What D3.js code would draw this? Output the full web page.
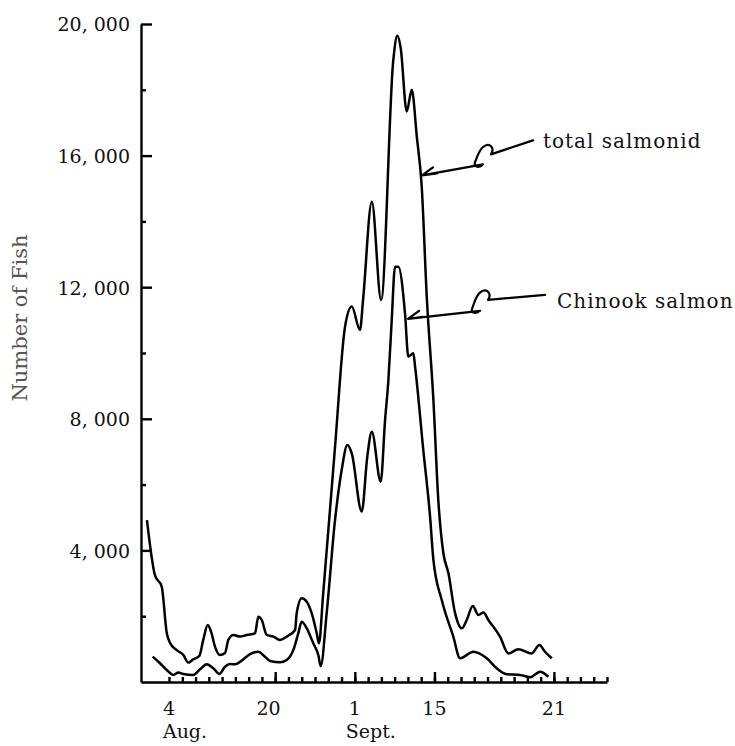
<!DOCTYPE html>
<meta charset="utf-8">
<style>
body { margin: 0; background: #fff; }
text { font-family: "DejaVu Serif", serif; fill: #111; }
.axis path, .axis line { stroke: #000; stroke-width: 2.4px; }
.axis text { font-size: 19px; }
.curve { fill: none; stroke: #000; stroke-width: 2.5px; stroke-linejoin: round; }
.note { font-size: 20px; letter-spacing: 1px; }
.arrow { fill: none; stroke: #000; stroke-width: 2.2px; stroke-linecap: round; stroke-linejoin: round; }
</style>
<svg width="735" height="746"></svg>
<script src="https://d3js.org/d3.v7.min.js"></script>
<script>
// x is measured in axis tick steps (first labelled tick "4 Aug." = 0)
const totalPos = [-1.66, -1.06, -0.55, -0.17, 0.08, 0.58, 1.08, 1.45, 1.83, 2.28, 2.58, 2.92, 3.17, 3.47, 3.84,
  4.22, 4.47, 4.85, 5.35, 5.86, 6.48, 6.73, 6.99, 7.36, 7.86, 8.36, 8.87, 9.5, 9.62, 10.0, 10.38, 10.75,
  11.13, 11.3, 11.6, 12.5, 13.26, 13.77, 14.39, 14.62, 15.28, 15.98, 16.9, 17.2, 17.46, 17.91, 18.29, 18.67, 19.04,
  19.42, 19.92, 20.29, 20.67, 21.05, 21.55, 22.06, 22.43, 22.89, 23.31, 23.69, 24.06, 24.94, 25.57,
  26.32, 27.33, 27.9, 28.33, 28.84]
const totalFish = [4920, 3250, 2900, 1490, 1185, 970, 820, 590, 690, 790, 1280, 1730, 1530, 1070, 820,
  880, 1280, 1430, 1380, 1430, 1480, 1985, 1885, 1430, 1380, 1280, 1380, 1580, 2090, 2545, 2440, 2090,
  1480, 1175, 2600, 7100, 10790, 11410, 10700, 11610, 14600, 11610, 18910, 19640, 19260, 17340, 18000, 16580, 15060,
  11710, 8570, 5530, 3920, 3310, 2100, 1630, 1885, 2310, 2040, 2110, 1885, 1380, 870,
  995, 870, 1125, 920, 720]

const chinookPos = [-1.23, -0.68, -0.17, 0.32, 0.7, 1.08, 1.83, 2.34, 2.84, 3.34, 3.79, 4.22, 4.6, 4.97,
  5.6, 6.1, 6.73, 7.23, 7.61, 8.36, 8.87, 9.37, 9.74, 10.0, 10.38, 10.87, 11.25, 11.43, 11.88, 12.51,
  13.01, 13.44, 13.77, 14.52, 14.94, 15.28, 15.95, 16.28, 16.53, 16.78, 17.03, 17.28, 17.78, 18.03, 18.41,
  18.54, 19.16, 19.67, 19.92, 20.55, 21.42, 21.93, 22.93, 23.94, 24.69, 25.45, 26.45, 27.2, 27.96, 28.58]
const chinookFish = [770, 570, 365, 215, 285, 245, 215, 385, 540, 415, 245, 465, 545, 540,
  690, 850, 920, 770, 640, 600, 670, 975, 1480, 1830, 1630, 1175, 820, 485, 2090, 4925,
  6445, 7205, 6950, 5180, 6850, 7610, 6090, 7965, 9180, 11000, 12625, 12625, 11210, 9890, 9990,
  9585, 7050, 5025, 3710, 2490, 1380, 720, 920, 720, 415, 235, 215, 145, 315, 160]

const yTicks = [4000, 8000, 12000, 16000, 20000]
const yMinorTicks = [2000, 6000, 10000, 14000, 18000]
const xTickSteps = d3.range(0, 34)
const xLongTicks = [8, 14, 20, 29]
const dayLabels = ["4", "20", "1", "15", "21"]
const dayLabelPos = [0, 7.5, 14, 20, 29]
const monthLabels = ["Aug.", "Sept."]
const monthLabelPos = [0, 14]
const yTitle = "Number of Fish"
const notes = [
  {label: "total salmonid", pos: 19.06, fish: 15400},
  {label: "Chinook salmon", pos: 18.01, fish: 11040}
]

const svg = d3.select("svg")

const x = d3.scaleLinear()
    .domain([-2.11, 33])
    .range([141, 607])

const y = d3.scaleLinear()
    .domain([0, 20000])
    .range([682, 24])

const fmt = v => d3.format(",")(v).replace(",", ", ")

// y axis, major + minor ticks pointing inwards
svg.append("g")
    .attr("class", "axis")
    .attr("transform", `translate(${x(-2.11)},0)`)
    .call(d3.axisLeft(y).tickValues(yTicks).tickSizeInner(-11).tickSizeOuter(0)
      .tickPadding(11).tickFormat(fmt))
  .selectAll("text")
    .attr("x", -11)
    .attr("dy", "0.36em")

svg.append("g")
    .attr("class", "axis")
    .attr("transform", `translate(${x(-2.11)},0)`)
    .call(d3.axisLeft(y).tickValues(yMinorTicks).tickSizeInner(-5).tickSizeOuter(0).tickFormat(""))
  .select(".domain").remove()

// x axis, ticks pointing up
svg.append("g")
    .attr("class", "axis")
    .attr("transform", `translate(0,${y(0)})`)
    .call(d3.axisBottom(x).tickValues(xTickSteps).tickSizeInner(-5).tickSizeOuter(0).tickFormat(""))

svg.append("g")
    .attr("class", "axis")
    .attr("transform", `translate(0,${y(0)})`)
    .call(d3.axisBottom(x).tickValues(xLongTicks).tickSizeInner(-10).tickSizeOuter(0).tickFormat(""))
  .select(".domain").remove()

svg.append("g")
  .selectAll("text")
  .data(dayLabels)
  .join("text")
    .attr("x", (d, i) => x(dayLabelPos[i]))
    .attr("y", 715)
    .attr("text-anchor", "middle")
    .style("font-size", "19px")
    .text(d => d)

svg.append("g")
  .selectAll("text")
  .data(monthLabels)
  .join("text")
    .attr("x", (d, i) => x(monthLabelPos[i]) + 16)
    .attr("y", 738)
    .attr("text-anchor", "middle")
    .style("font-size", "19px")
    .text(d => d)

svg.append("text")
    .attr("transform", "translate(27,318) rotate(-90)")
    .attr("text-anchor", "middle")
    .style("font-size", "21px")
    .style("fill", "#555")
    .text(yTitle)

const line = d3.line()
    .x(d => x(d[0]))
    .y(d => y(d[1]))
    .curve(d3.curveMonotoneX)

svg.append("path")
    .attr("class", "curve")
    .attr("d", line(d3.zip(totalPos, totalFish)))

svg.append("path")
    .attr("class", "curve")
    .attr("d", line(d3.zip(chinookPos, chinookFish)))

// hand drawn squiggle arrows, drawn relative to the tip
const squiggles = [
  "M111,-35 L69,-21 C73,-27 68,-33 62,-29 C57,-26 55,-18 53,-13 C51,-8 58,-7 61,-11 L0,0",
  "M137,-24 L80,-19 C84,-25 79,-31 73,-27 C68,-24 66,-15 64,-10 C62,-5 69,-5 72,-8 L0,0"
]
const barb = "M11,-8 L0,0 L15,-2"
const noteOffset = [[121, -27], [149, -11]]

notes.forEach((n, i) => {
  const tx = x(n.pos), ty = y(n.fish)
  svg.append("path")
      .attr("class", "arrow")
      .attr("transform", `translate(${tx},${ty})`)
      .attr("d", squiggles[i] + " " + barb)
  svg.append("text")
      .attr("class", "note")
      .attr("x", tx + noteOffset[i][0])
      .attr("y", ty + noteOffset[i][1])
      .text(n.label)
})
</script>
